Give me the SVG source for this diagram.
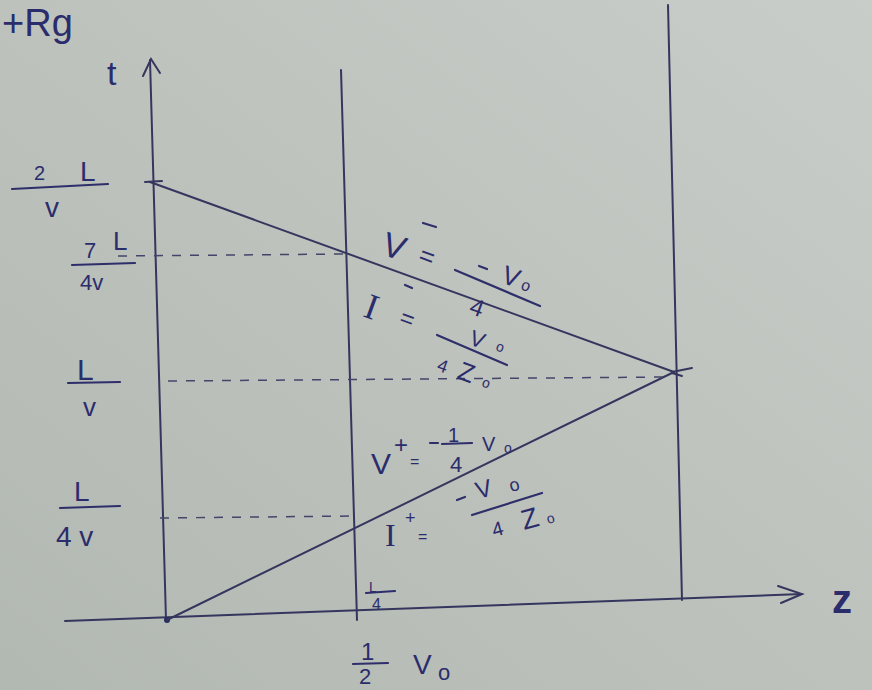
<svg xmlns="http://www.w3.org/2000/svg" width="872" height="690" viewBox="0 0 872 690">
<defs>
<linearGradient id="paper" x1="0" y1="1" x2="1" y2="0">
<stop offset="0" stop-color="#b2b8b2"/>
<stop offset="0.5" stop-color="#bdc2bd"/>
<stop offset="1" stop-color="#c9cdc9"/>
</linearGradient>
<style>
.ln{stroke:#35365e;stroke-width:2;fill:none;stroke-linecap:round}
.dash{stroke:#44456a;stroke-width:1.5;fill:none;stroke-dasharray:9 9}
.fr{stroke:#2e2f6a;stroke-width:2.2;fill:none;stroke-linecap:round}
.tx{font-family:"Liberation Sans","DejaVu Sans",sans-serif;fill:#2b2c6c}
.sf{font-family:"Liberation Serif","DejaVu Serif",serif;fill:#2b2c6c}
</style>
</defs>
<rect width="872" height="690" fill="url(#paper)"/>

<g id="axes">
<line class="ln" x1="150" y1="60" x2="166" y2="620"/>
<path class="ln" d="M143,76 L151,59 L160,73"/>
<line class="ln" x1="65" y1="621" x2="802" y2="594"/>
<path class="ln" d="M778,586 L802,594 L781,603"/>
<line class="ln" x1="341" y1="70" x2="357" y2="620"/>
<line class="ln" x1="668" y1="5" x2="682" y2="600"/>
<line class="ln" x1="145" y1="182" x2="162" y2="181"/>
<path class="ln" d="M672,372 L692,368 M672,373 L682,376"/>
<circle cx="167" cy="620" r="3" fill="#2a2b60"/>
</g>

<g id="connectors">
<line class="ln" x1="150" y1="182" x2="674" y2="372"/>
<line class="ln" x1="167" y1="620" x2="674" y2="372"/>
<line class="dash" x1="118" y1="256" x2="345" y2="254"/>
<line class="dash" x1="168" y1="381" x2="668" y2="377"/>
<line class="dash" x1="160" y1="518" x2="352" y2="516"/>
</g>

<g id="label-rg"><text class="tx" x="2" y="36" font-size="38">+Rg</text></g>
<g id="label-t"><text class="tx" x="107" y="85" font-size="34">t</text></g>
<g id="label-z"><text class="tx" x="832" y="613" font-size="40" font-weight="bold">z</text></g>

<g id="tick-2L-v">
<text class="tx" x="34" y="180" font-size="20">2</text>
<text class="tx" x="80" y="181" font-size="28">L</text>
<line class="fr" x1="12" y1="189" x2="108" y2="184"/>
<text class="tx" x="45" y="217" font-size="28">v</text>
</g>
<g id="tick-7L-4v">
<text class="tx" x="84" y="258" font-size="22">7</text>
<text class="tx" x="113" y="250" font-size="26">L</text>
<line class="fr" x1="72" y1="265" x2="135" y2="263"/>
<text class="tx" x="80" y="290" font-size="22">4v</text>
</g>
<g id="tick-L-v">
<text class="tx" x="77" y="380" font-size="30">L</text>
<line class="fr" x1="68" y1="383" x2="120" y2="382"/>
<text class="tx" x="83" y="416" font-size="26">v</text>
</g>
<g id="tick-L-4v">
<text class="tx" x="74" y="501" font-size="28">L</text>
<line class="fr" x1="60" y1="508" x2="120" y2="506"/>
<text class="tx" x="56" y="546" font-size="28">4 v</text>
</g>

<g id="label-vminus">
<text class="tx" x="380" y="254" font-size="34" transform="rotate(18 380 254)">V</text>
<line class="fr" x1="423" y1="223" x2="436" y2="227"/>
<text class="tx" x="417" y="262" font-size="26" transform="rotate(20 417 262)">=</text>
<line class="fr" x1="479" y1="266" x2="487" y2="269"/>
<text class="tx" x="500" y="282" font-size="26" transform="rotate(20 500 282)">V</text>
<text class="tx" x="520" y="289" font-size="16" transform="rotate(20 520 289)">o</text>
<line class="fr" x1="455" y1="270" x2="540" y2="306"/>
<text class="tx" x="468" y="313" font-size="24" transform="rotate(20 468 313)">4</text>
</g>
<g id="label-iminus">
<text class="sf" x="362" y="316" font-size="36" transform="rotate(20 362 316)">I</text>
<line class="fr" x1="405" y1="285" x2="412" y2="288"/>
<text class="tx" x="398" y="324" font-size="24" transform="rotate(20 398 324)">=</text>
<text class="tx" x="468" y="344" font-size="22" transform="rotate(20 468 344)">V</text>
<text class="tx" x="495" y="350" font-size="14" transform="rotate(20 495 350)">o</text>
<line class="fr" x1="437" y1="335" x2="507" y2="365"/>
<text class="tx" x="436" y="370" font-size="18" transform="rotate(20 436 370)">4</text>
<text class="tx" x="456" y="378" font-size="26" transform="rotate(20 456 378)">Z</text>
<text class="tx" x="481" y="386" font-size="14" transform="rotate(20 481 386)">o</text>
</g>
<g id="label-vplus">
<text class="tx" x="371" y="474" font-size="30">V</text>
<text class="tx" x="394" y="453" font-size="24">+</text>
<text class="tx" x="410" y="467" font-size="16">=</text>
<line class="fr" x1="430" y1="443" x2="438" y2="443"/>
<text class="tx" x="448" y="442" font-size="20">1</text>
<line class="fr" x1="442" y1="444" x2="472" y2="443"/>
<text class="tx" x="450" y="472" font-size="22">4</text>
<text class="tx" x="482" y="451" font-size="20">V</text>
<text class="tx" x="504" y="453" font-size="14">o</text>
</g>
<g id="label-iplus">
<text class="sf" x="385" y="546" font-size="32">I</text>
<text class="tx" x="405" y="524" font-size="18">+</text>
<text class="tx" x="418" y="542" font-size="16">=</text>
<line class="fr" x1="457" y1="500" x2="465" y2="497"/>
<text class="tx" x="478" y="499" font-size="24" transform="rotate(-15 478 499)">V</text>
<text class="tx" x="511" y="492" font-size="18" transform="rotate(-15 511 492)">o</text>
<line class="fr" x1="472" y1="515" x2="542" y2="493"/>
<text class="tx" x="494" y="537" font-size="20" transform="rotate(-15 494 537)">4</text>
<text class="tx" x="524" y="530" font-size="28" transform="rotate(-15 524 530)">Z</text>
<text class="tx" x="548" y="524" font-size="14" transform="rotate(-15 548 524)">o</text>
</g>
<g id="label-L4">
<text class="tx" x="369" y="592" font-size="14">L</text>
<line class="fr" x1="366" y1="593" x2="395" y2="591"/>
<text class="tx" x="372" y="610" font-size="16">4</text>
</g>
<g id="label-halfV0">
<text class="tx" x="361" y="660" font-size="24">1</text>
<line class="fr" x1="353" y1="664" x2="388" y2="663"/>
<text class="tx" x="359" y="684" font-size="22">2</text>
<text class="tx" x="413" y="674" font-size="28">V</text>
<text class="tx" x="438" y="680" font-size="22">o</text>
</g>
</svg>
